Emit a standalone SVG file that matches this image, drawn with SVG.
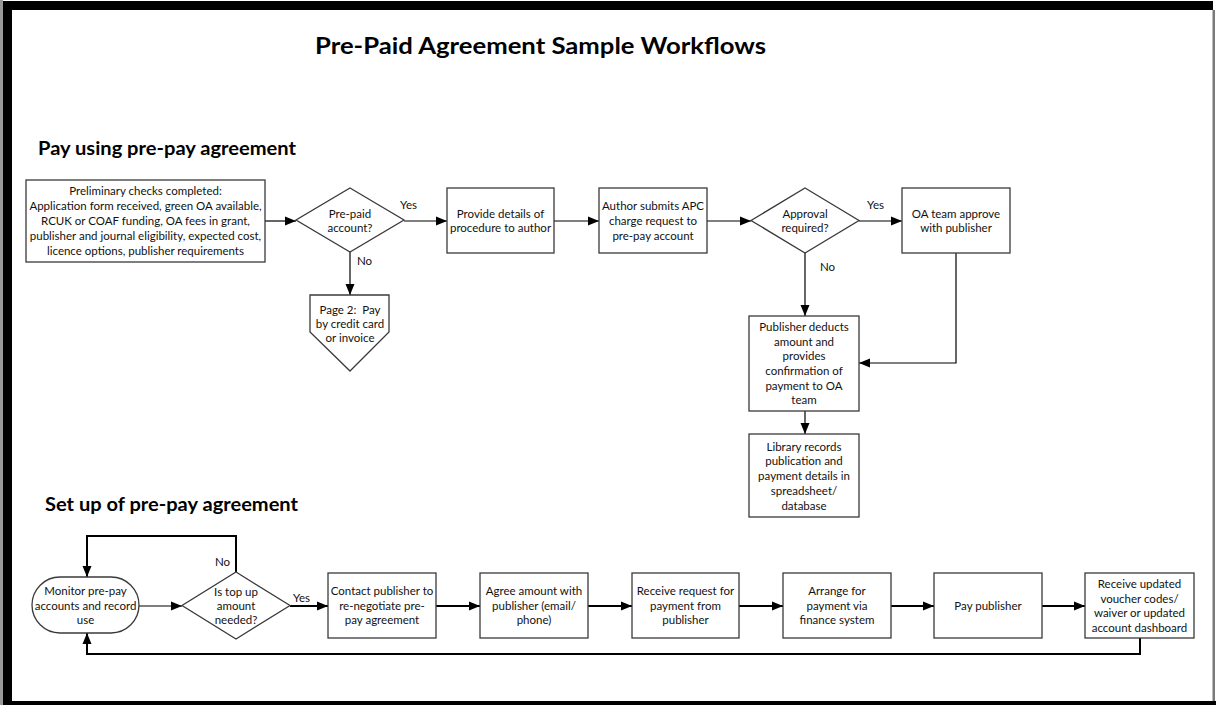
<svg xmlns="http://www.w3.org/2000/svg" width="1216" height="705" viewBox="0 0 1216 705">
<style>
  .box{fill:#fff;stroke:#3a3a3a;stroke-width:1.3}
  .t{font-family:Lato,"Liberation Sans",sans-serif;font-size:11.5px;fill:#111;text-anchor:middle}
  .lbl{font-family:Lato,"Liberation Sans",sans-serif;font-size:11.5px;fill:#111}
  .h1{font-family:Lato,"Liberation Sans",sans-serif;font-size:22px;font-weight:bold;fill:#000}
  .h2{font-family:Lato,"Liberation Sans",sans-serif;font-size:18px;font-weight:bold;fill:#000}
  .thin{fill:none;stroke:#000;stroke-width:1.2}
  .thick{fill:none;stroke:#000;stroke-width:2}
</style>
<defs>
  <marker id="ah" markerUnits="userSpaceOnUse" markerWidth="12" markerHeight="10" refX="11" refY="5" orient="auto">
    <path d="M0,0.5 L11,5 L0,9.5 Z" fill="#000"/>
  </marker>
</defs>
<rect x="0" y="0" width="1216" height="705" fill="#fff"/>
<g id="frame">
  <rect x="0" y="0" width="3" height="705" fill="#9a9a9a"/>
  <rect x="3" y="1" width="1210" height="9" fill="#000"/>
  <rect x="3" y="1" width="9" height="704" fill="#000"/>
  <rect x="3" y="701" width="1213" height="4" fill="#000"/>
  <rect x="1212.5" y="10" width="2.5" height="691" fill="#7a7a7a"/>
</g>
<g id="titles">
  <text class="h1" x="315" y="54" textLength="451" lengthAdjust="spacingAndGlyphs">Pre-Paid Agreement Sample Workflows</text>
  <text class="h2" x="38" y="155" textLength="258" lengthAdjust="spacingAndGlyphs">Pay using pre-pay agreement</text>
  <text class="h2" x="45" y="511" textLength="253" lengthAdjust="spacingAndGlyphs">Set up of pre-pay agreement</text>
</g>
<g id="connectors">
  <path class="thin" d="M265,221 H296" marker-end="url(#ah)"/>
  <path class="thin" d="M404,221 H447" marker-end="url(#ah)"/>
  <path class="thin" d="M350,252 V295" marker-end="url(#ah)"/>
  <path class="thin" d="M554,221 H599" marker-end="url(#ah)"/>
  <path class="thin" d="M707,221 H751" marker-end="url(#ah)"/>
  <path class="thin" d="M859,221 H902" marker-end="url(#ah)"/>
  <path class="thin" d="M805,253 V316" marker-end="url(#ah)"/>
  <path class="thin" d="M956,253 V363 H859" marker-end="url(#ah)"/>
  <path class="thin" d="M805,411 V434" marker-end="url(#ah)"/>
  <path class="thin" d="M139,606 H182" marker-end="url(#ah)"/>
  <path class="thick" d="M236,572 V536 H87 V577" marker-end="url(#ah)"/>
  <path class="thick" d="M290,606 H328" marker-end="url(#ah)"/>
  <path class="thick" d="M436,606 H480" marker-end="url(#ah)"/>
  <path class="thick" d="M588,606 H632" marker-end="url(#ah)"/>
  <path class="thick" d="M739,606 H783" marker-end="url(#ah)"/>
  <path class="thick" d="M891,606 H934" marker-end="url(#ah)"/>
  <path class="thick" d="M1042,606 H1085" marker-end="url(#ah)"/>
  <path class="thick" d="M1140,638 V654 H87 V633" marker-end="url(#ah)"/>
  <text class="lbl" x="400" y="209">Yes</text>
  <text class="lbl" x="357" y="265">No</text>
  <text class="lbl" x="867" y="209">Yes</text>
  <text class="lbl" x="820" y="271">No</text>
  <text class="lbl" x="215" y="566">No</text>
  <text class="lbl" x="293" y="602">Yes</text>
</g>
<g id="prelim">
  <rect class="box" x="26" y="180" width="239" height="82"/>
  <text class="t" x="145.5" y="195">Preliminary checks completed:</text>
  <text class="t" x="145.5" y="210">Application form received, green OA available,</text>
  <text class="t" x="145.5" y="225">RCUK or COAF funding, OA fees in grant,</text>
  <text class="t" x="145.5" y="240">publisher and journal eligibility, expected cost,</text>
  <text class="t" x="145.5" y="255">licence options, publisher requirements</text>
</g>
<g id="prepaid">
  <path class="box" d="M350,188 L404,220 L350,252 L296,220 Z"/>
  <text class="t" x="350" y="218">Pre-paid</text>
  <text class="t" x="350" y="232">account?</text>
</g>
<g id="page2">
  <path class="box" d="M310,295 H389 V332 L350,371 L310,332 Z"/>
  <text class="t" x="350" y="314">Page 2:&#160; Pay</text>
  <text class="t" x="350" y="328">by credit card</text>
  <text class="t" x="350" y="342">or invoice</text>
</g>
<g id="provide">
  <rect class="box" x="447" y="188" width="107" height="65"/>
  <text class="t" x="500.5" y="218">Provide details of</text>
  <text class="t" x="500.5" y="232">procedure to author</text>
</g>
<g id="submits">
  <rect class="box" x="599" y="188" width="108" height="65"/>
  <text class="t" x="653" y="210">Author submits APC</text>
  <text class="t" x="653" y="225">charge request to</text>
  <text class="t" x="653" y="240">pre-pay account</text>
</g>
<g id="approval">
  <path class="box" d="M805,188 L859,220.5 L805,253 L751,220.5 Z"/>
  <text class="t" x="805" y="218">Approval</text>
  <text class="t" x="805" y="232">required?</text>
</g>
<g id="oateam">
  <rect class="box" x="902" y="188" width="108" height="65"/>
  <text class="t" x="956" y="218">OA team approve</text>
  <text class="t" x="956" y="232">with publisher</text>
</g>
<g id="deducts">
  <rect class="box" x="749" y="316" width="110" height="95"/>
  <text class="t" x="804" y="331">Publisher deducts</text>
  <text class="t" x="804" y="345.5">amount and</text>
  <text class="t" x="804" y="360">provides</text>
  <text class="t" x="804" y="375">confirmation of</text>
  <text class="t" x="804" y="389.5">payment to OA</text>
  <text class="t" x="804" y="404">team</text>
</g>
<g id="library">
  <rect class="box" x="749" y="434" width="110" height="83"/>
  <text class="t" x="804" y="451">Library records</text>
  <text class="t" x="804" y="465">publication and</text>
  <text class="t" x="804" y="480">payment details in</text>
  <text class="t" x="804" y="495">spreadsheet/</text>
  <text class="t" x="804" y="510">database</text>
</g>
<g id="monitor">
  <rect class="box" x="32" y="577" width="107" height="56" rx="28" ry="28"/>
  <text class="t" x="85.5" y="595">Monitor pre-pay</text>
  <text class="t" x="85.5" y="610">accounts and record</text>
  <text class="t" x="85.5" y="624">use</text>
</g>
<g id="topup">
  <path class="box" d="M236,572 L290,605.5 L236,639 L182,605.5 Z"/>
  <text class="t" x="236" y="596">Is top up</text>
  <text class="t" x="236" y="610">amount</text>
  <text class="t" x="236" y="624">needed?</text>
</g>
<g id="contact">
  <rect class="box" x="328" y="573" width="108" height="65"/>
  <text class="t" x="382" y="595">Contact publisher to</text>
  <text class="t" x="382" y="610">re-negotiate pre-</text>
  <text class="t" x="382" y="624">pay agreement</text>
</g>
<g id="agree">
  <rect class="box" x="480" y="573" width="108" height="65"/>
  <text class="t" x="534" y="595">Agree amount with</text>
  <text class="t" x="534" y="610">publisher (email/</text>
  <text class="t" x="534" y="624">phone)</text>
</g>
<g id="receive">
  <rect class="box" x="632" y="573" width="107" height="65"/>
  <text class="t" x="685.5" y="595">Receive request for</text>
  <text class="t" x="685.5" y="610">payment from</text>
  <text class="t" x="685.5" y="624">publisher</text>
</g>
<g id="arrange">
  <rect class="box" x="783" y="573" width="108" height="65"/>
  <text class="t" x="837" y="595">Arrange for</text>
  <text class="t" x="837" y="610">payment via</text>
  <text class="t" x="837" y="624">finance system</text>
</g>
<g id="pay">
  <rect class="box" x="934" y="573" width="108" height="65"/>
  <text class="t" x="988" y="610">Pay publisher</text>
</g>
<g id="updated">
  <rect class="box" x="1085" y="573" width="109" height="65"/>
  <text class="t" x="1139.5" y="588">Receive updated</text>
  <text class="t" x="1139.5" y="603">voucher codes/</text>
  <text class="t" x="1139.5" y="617">waiver or updated</text>
  <text class="t" x="1139.5" y="632">account dashboard</text>
</g>
</svg>
